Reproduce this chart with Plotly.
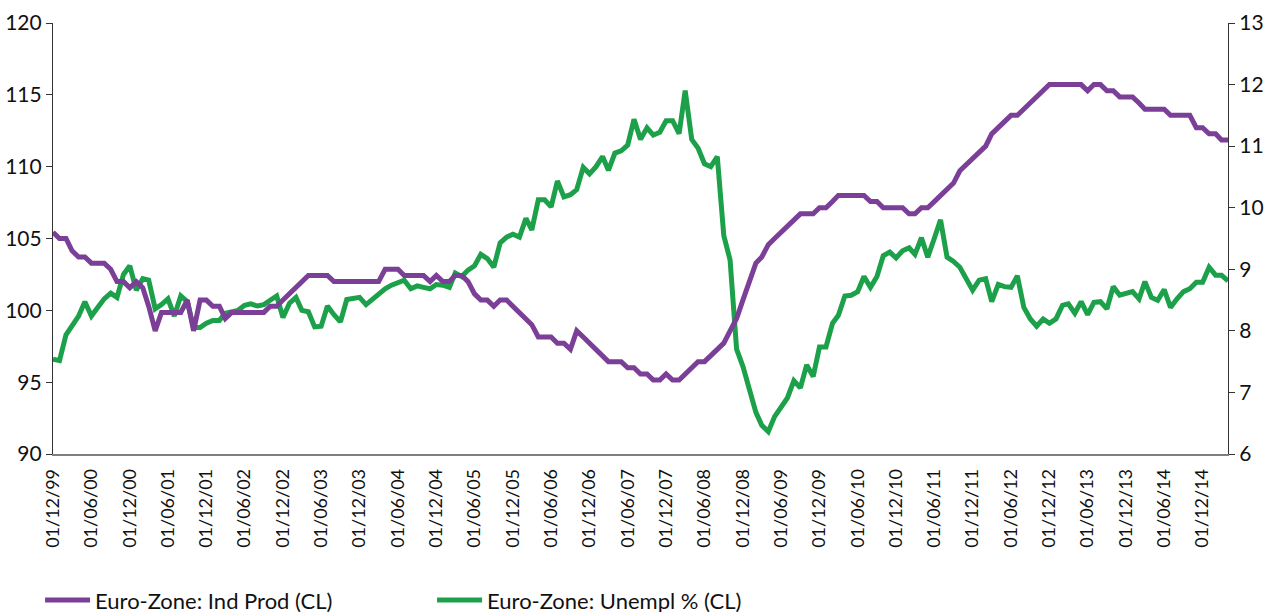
import pandas as pd
import plotly.graph_objects as go

# Monthly observations, Dec 1999 .. Apr 2015
dates = pd.date_range("1999-12-01", "2015-04-01", freq="MS")

# purple series (plotted on right axis scale)
ind_prod = [
    9.6, 9.5, 9.5, 9.3, 9.2, 9.2, 9.1, 9.1, 9.1, 9.0,
    8.8, 8.8, 8.7, 8.8, 8.7, 8.4, 8.0, 8.3, 8.3, 8.3,
    8.3, 8.5, 8.0, 8.5, 8.5, 8.4, 8.4, 8.2, 8.3, 8.3,
    8.3, 8.3, 8.3, 8.3, 8.4, 8.4, 8.5, 8.6, 8.7, 8.8,
    8.9, 8.9, 8.9, 8.9, 8.8, 8.8, 8.8, 8.8, 8.8, 8.8,
    8.8, 8.8, 9.0, 9.0, 9.0, 8.9, 8.9, 8.9, 8.9, 8.8,
    8.9, 8.8, 8.8, 8.9, 8.9, 8.8, 8.6, 8.5, 8.5, 8.4,
    8.5, 8.5, 8.4, 8.3, 8.2, 8.1, 7.9, 7.9, 7.9, 7.8,
    7.8, 7.7, 8.0, 7.9, 7.8, 7.7, 7.6, 7.5, 7.5, 7.5,
    7.4, 7.4, 7.3, 7.3, 7.2, 7.2, 7.3, 7.2, 7.2, 7.3,
    7.4, 7.5, 7.5, 7.6, 7.7, 7.8, 8.0, 8.2, 8.5, 8.8,
    9.1, 9.2, 9.4, 9.5, 9.6, 9.7, 9.8, 9.9, 9.9, 9.9,
    10.0, 10.0, 10.1, 10.2, 10.2, 10.2, 10.2, 10.2, 10.1, 10.1,
    10.0, 10.0, 10.0, 10.0, 9.9, 9.9, 10.0, 10.0, 10.1, 10.2,
    10.3, 10.4, 10.6, 10.7, 10.8, 10.9, 11.0, 11.2, 11.3, 11.4,
    11.5, 11.5, 11.6, 11.7, 11.8, 11.9, 12.0, 12.0, 12.0, 12.0,
    12.0, 12.0, 11.9, 12.0, 12.0, 11.9, 11.9, 11.8, 11.8, 11.8,
    11.7, 11.6, 11.6, 11.6, 11.6, 11.5, 11.5, 11.5, 11.5, 11.3,
    11.3, 11.2, 11.2, 11.1, 11.1,
]

# green series (plotted on left axis scale)
unempl = [
    96.6, 96.5, 98.3, 98.9, 99.6, 100.6, 99.6, 100.2, 100.8, 101.2,
    100.9, 102.5, 103.1, 101.4, 102.2, 102.1, 100.1, 100.4, 100.8, 99.6,
    101.0, 100.6, 98.8, 98.8, 99.1, 99.3, 99.3, 99.8, 99.9, 100.0,
    100.35, 100.45, 100.3, 100.4, 100.7, 101.0, 99.5, 100.5, 100.9, 100.0,
    99.9, 98.85, 98.9, 100.3, 99.7, 99.2, 100.75, 100.8, 100.9, 100.4,
    100.8, 101.2, 101.5, 101.75, 101.9, 102.1, 101.5, 101.7, 101.6, 101.5,
    101.8, 101.75, 101.6, 102.6, 102.35, 102.8, 103.1, 103.9, 103.6, 103.0,
    104.7, 105.1, 105.3, 105.1, 106.4, 105.6, 107.7, 107.7, 107.2, 109.0,
    107.9, 108.05, 108.4, 109.95, 109.5, 110.0, 110.7, 109.75, 110.95, 111.1,
    111.5, 113.3, 111.9, 112.7, 112.2, 112.4, 113.2, 113.2, 112.3, 115.3,
    111.9, 111.3, 110.2, 110.0, 110.7, 105.2, 103.5, 97.3, 96.1, 94.6,
    92.9, 92.0, 91.55, 92.6, 93.2, 93.9, 95.1, 94.6, 96.2, 95.4,
    97.45, 97.45, 99.1, 99.65, 101.0, 101.05, 101.3, 102.35, 101.6, 102.35,
    103.8, 104.05, 103.65, 104.15, 104.35, 103.9, 105.05, 103.7, 105.0, 106.3,
    103.7, 103.4, 103.0, 102.1, 101.4, 102.1, 102.2, 100.6, 101.8, 101.65,
    101.6, 102.4, 100.2, 99.4, 98.9, 99.4, 99.1, 99.4, 100.35, 100.45,
    99.8, 100.6, 99.7, 100.55, 100.6, 100.1, 101.65, 101.05, 101.2, 101.3,
    100.8, 102.0, 100.9, 100.7, 101.45, 100.2, 100.8, 101.3, 101.5, 101.95,
    101.95, 103.0, 102.45, 102.45, 102.05,
]

series_names = ["Euro-Zone: Ind Prod (CL)", "Euro-Zone: Unempl % (CL)"]
left_ticks = [90, 95, 100, 105, 110, 115, 120]
right_ticks = [6, 7, 8, 9, 10, 11, 12, 13]

PURPLE = "#7B3F98"
GREEN = "#1DA04A"
FONT = "Lato"

fig = go.Figure()
fig.add_trace(go.Scatter(x=dates, y=ind_prod, name=series_names[0], yaxis="y2",
                         mode="lines", line=dict(color=PURPLE, width=5)))
fig.add_trace(go.Scatter(x=dates, y=unempl, name=series_names[1], yaxis="y",
                         mode="lines", line=dict(color=GREEN, width=5)))

fig.update_layout(
    width=1274, height=612,
    margin=dict(l=53, r=46, t=23, b=158, autoexpand=False),
    paper_bgcolor="white", plot_bgcolor="white",
    font=dict(family=FONT, size=21, color="#111111"),
    showlegend=True,
    legend=dict(orientation="h", x=-0.011, xanchor="left", y=-0.339, yanchor="middle",
                font=dict(size=22), itemwidth=45, entrywidth=332,
                entrywidthmode="pixels", traceorder="normal",
                bgcolor="rgba(0,0,0,0)"),
    xaxis=dict(type="date", range=[dates[0], dates[-1]], automargin=False,
               tick0="1999-12-01", dtick="M6", tickformat="%d/%m/%y",
               tickangle=-90, showgrid=False, zeroline=False,
               showline=True, linecolor="#7f7f7f", linewidth=1.5,
               ticks="", ticklabelstandoff=6, tickfont=dict(size=18)),
    yaxis=dict(range=[90, 120], tickvals=left_ticks, showgrid=False, zeroline=False,
               automargin=False, showline=True, linecolor="#333333", linewidth=1.2,
               ticks="outside", ticklen=6, tickcolor="#333333"),
    yaxis2=dict(range=[6, 13], tickvals=right_ticks, overlaying="y", side="right",
                automargin=False, showgrid=False, zeroline=False, showline=True,
                linecolor="#333333", linewidth=1.2, ticks="outside", ticklen=6,
                tickcolor="#333333"),
)

fig.write_html("out.html", config={"displayModeBar": False},
               post_script="document.body.style.margin='0';document.body.style.overflow='hidden';")
